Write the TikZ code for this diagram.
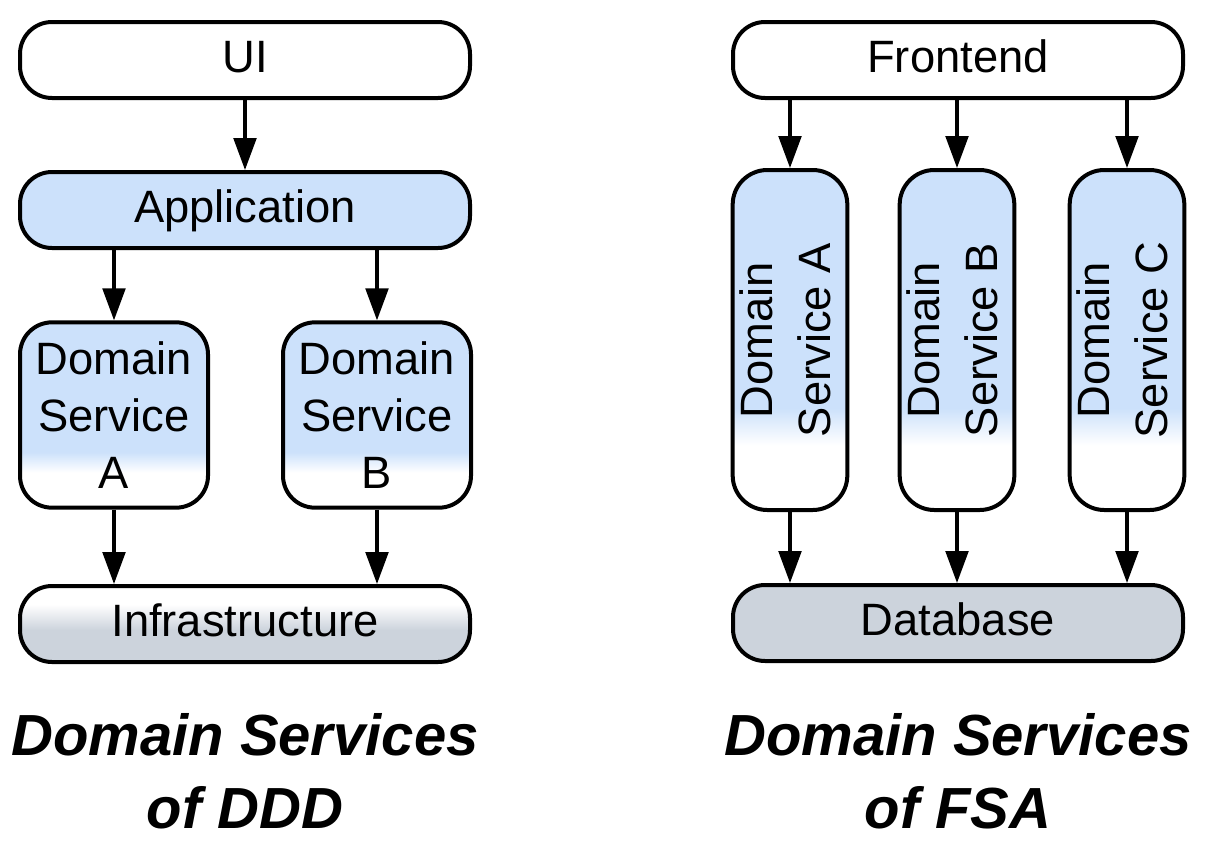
\documentclass[tikz,border=0pt]{standalone}
\usepackage{xcolor}
\usepackage{fontspec}
\setmainfont{Liberation Sans}
\usepackage{tikz}
\usetikzlibrary{positioning, arrows.meta}
\definecolor{svcblue}{HTML}{CCE1FB}
\definecolor{infragray}{HTML}{CCD3DC}
\pgfdeclareverticalshading{svcfade}{100bp}{color(0bp)=(white); color(34.5bp)=(white); color(40bp)=(svcblue); color(100bp)=(svcblue)}
\pgfdeclareverticalshading{infrafade}{100bp}{color(0bp)=(infragray); color(46bp)=(infragray); color(63bp)=(white); color(100bp)=(white)}

\begin{document}
\begin{tikzpicture}[x=0.75pt, y=-0.75pt,
    layer/.style={draw, line width=3pt, rounded corners=24pt, minimum width=337.5pt, minimum height=57pt,
                  inner sep=0pt, text height=25pt, text depth=7pt, font=\fontsize{34}{42}\selectfont},
    svc/.style={draw, line width=3pt, rounded corners=24pt, shading=svcfade, inner sep=0pt,
                align=center, font=\fontsize{34}{43}\selectfont},
    flow/.style={line width=2.5pt, -{Triangle[length=24pt, width=17pt]}},
    caption/.style={align=center, font=\fontsize{43.5}{55}\selectfont\bfseries\itshape}]
  \useasboundingbox (0,0) rectangle (1209,846);

  % Domain Services of DDD
  \node[layer, fill=white] (ui) at (245,60) {UI};
  \node[layer, fill=svcblue] (app) at (245,210) {Application};
  \node[svc, minimum width=141pt, minimum height=139pt] (dsa) at (114,415) {Domain\\Service\\A};
  \node[svc, minimum width=141pt, minimum height=139pt] (dsb) at (377,415) {Domain\\Service\\B};
  \node[layer, shading=infrafade] (infra) at (245,624) {Infrastructure};
  \node[caption] (capddd) at (245,771) {Domain Services\\of DDD};

  \draw[flow] (ui) -- (app);
  \draw[flow] (dsa |- app.south) -- (dsa);
  \draw[flow] (dsb |- app.south) -- (dsb);
  \draw[flow] (dsa) -- (dsa |- infra.north);
  \draw[flow] (dsb) -- (dsb |- infra.north);

  % Domain Services of FSA
  \node[layer, fill=white] (fe) at (958,60) {Frontend};
  \node[svc, rounded corners=26pt, minimum width=86pt, minimum height=255pt] (fsa) at (790,340)
    {\rotatebox{90}{\begin{tabular}{@{}c@{}}Domain\\Service A\end{tabular}}};
  \node[svc, rounded corners=26pt, minimum width=86pt, minimum height=255pt] (fsb) at (957,340)
    {\rotatebox{90}{\begin{tabular}{@{}c@{}}Domain\\Service B\end{tabular}}};
  \node[svc, rounded corners=26pt, minimum width=86pt, minimum height=255pt] (fsc) at (1127,340)
    {\rotatebox{90}{\begin{tabular}{@{}c@{}}Domain\\Service C\end{tabular}}};
  \node[layer, fill=infragray] (db) at (958,623) {Database};
  \node[caption] (capfsa) at (958,771) {Domain Services\\of FSA};

  \foreach \svc in {fsa, fsb, fsc} {
    \draw[flow] (\svc |- fe.south) -- (\svc);
    \draw[flow] (\svc) -- (\svc |- db.north);
  }
\end{tikzpicture}
\end{document}
